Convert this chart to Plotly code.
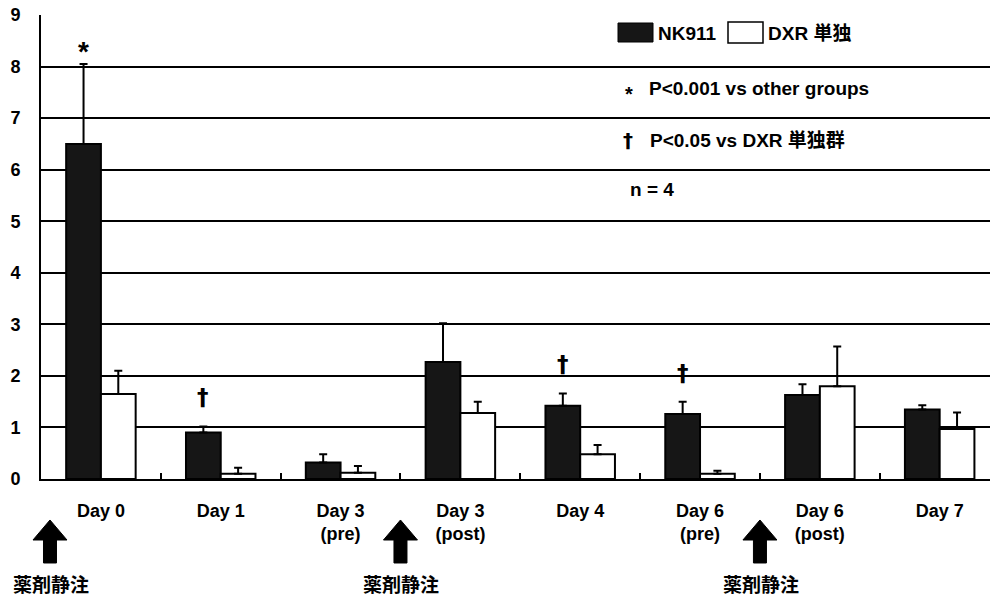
import plotly.graph_objects as go

# ---------------- data ----------------
categories = ["Day 0", "Day 1", "Day 3<br>(pre)", "Day 3<br>(post)", "Day 4",
              "Day 6<br>(pre)", "Day 6<br>(post)", "Day 7"]
nk911_values = [6.5, 0.9, 0.32, 2.27, 1.42, 1.26, 1.63, 1.35]
nk911_errors = [1.55, 0.12, 0.16, 0.75, 0.24, 0.24, 0.21, 0.08]
dxr_values = [1.65, 0.10, 0.12, 1.28, 0.48, 0.10, 1.80, 0.97]
dxr_errors = [0.45, 0.12, 0.13, 0.22, 0.18, 0.06, 0.77, 0.32]
nk911_marks = ["*", "†", "", "", "†", "†", "", ""]
y_tick_values = [0, 1, 2, 3, 4, 5, 6, 7, 8, 9]
series_names = ["NK911", "DXR 単独"]
legend_notes = ["P<0.001 vs other groups", "P<0.05 vs DXR 単独群", "n = 4"]
injection_label = "薬剤静注"
injection_positions = [-0.425, 2.5, 5.5]   # category-axis positions of the arrows

# ---------------- layout constants ----------------
W, H = 990, 596
ML, MR, MT, MB = 41, 0, 15, 117
PW, PH = W - ML - MR, H - MT - MB
X_RANGE = [-0.5, 7.42]
BARGAP = 0.42
FONT = "Liberation Sans, Arial, Noto Sans CJK JP, sans-serif"
MARK_FONT = "DejaVu Sans, Liberation Sans, sans-serif"


def px_x(px):
    return (px - ML) / PW


def px_y(py):
    return (H - MB - py) / PH


def cat_to_paper(c):
    return (c - X_RANGE[0]) / (X_RANGE[1] - X_RANGE[0])


fig = go.Figure()
fig.add_trace(go.Bar(
    x=categories, y=nk911_values, name=series_names[0],
    marker=dict(color="#161616", line=dict(color="black", width=2)),
    error_y=dict(type="data", symmetric=False, array=nk911_errors,
                 arrayminus=[0] * len(nk911_errors), color="black",
                 thickness=2, width=4),
))
fig.add_trace(go.Bar(
    x=categories, y=dxr_values, name=series_names[1],
    marker=dict(color="white", line=dict(color="black", width=2)),
    error_y=dict(type="data", symmetric=False, array=dxr_errors,
                 arrayminus=[0] * len(dxr_errors), color="black",
                 thickness=2, width=4),
))

annotations = []
shapes = []

# significance marks above NK911 bars
half_group = (1 - BARGAP) / 4
for i, mark in enumerate(nk911_marks):
    if not mark:
        continue
    annotations.append(dict(
        x=i - half_group, y=nk911_values[i] + nk911_errors[i], xref="x", yref="y",
        text=mark, showarrow=False, yanchor="bottom",
        yshift=-5 if mark == "*" else 14,
        font=dict(family=MARK_FONT if mark == "†" else FONT,
                  size=28 if mark == "*" else 23, color="black", weight="bold"),
    ))

# legend (manual)
shapes.append(dict(type="rect", xref="paper", yref="paper",
                   x0=px_x(618), x1=px_x(653), y0=px_y(42), y1=px_y(23),
                   fillcolor="#161616", line=dict(color="black", width=1)))
shapes.append(dict(type="rect", xref="paper", yref="paper",
                   x0=px_x(728), x1=px_x(763), y0=px_y(43), y1=px_y(22),
                   fillcolor="white", line=dict(color="black", width=1.5)))
legend_font = dict(family=FONT, size=19, color="black", weight="bold")
annotations.append(dict(x=px_x(656), y=px_y(33), xref="paper", yref="paper",
                        text=series_names[0], showarrow=False, xanchor="left",
                        yanchor="middle", font=legend_font))
annotations.append(dict(x=px_x(766), y=px_y(33), xref="paper", yref="paper",
                        text=series_names[1], showarrow=False, xanchor="left",
                        yanchor="middle", font=legend_font))
annotations.append(dict(x=px_x(629), y=px_y(94), xref="paper", yref="paper",
                        text="*", showarrow=False, xanchor="center",
                        yanchor="middle", font=dict(family=FONT, size=20, color="black", weight="bold")))
annotations.append(dict(x=px_x(647), y=px_y(88), xref="paper", yref="paper",
                        text=legend_notes[0], showarrow=False, xanchor="left",
                        yanchor="middle", font=legend_font))
annotations.append(dict(x=px_x(628), y=px_y(140), xref="paper", yref="paper",
                        text="†", showarrow=False, xanchor="center",
                        yanchor="middle", font=dict(family=MARK_FONT, size=20, color="black", weight="bold")))
annotations.append(dict(x=px_x(648), y=px_y(140), xref="paper", yref="paper",
                        text=legend_notes[1], showarrow=False, xanchor="left",
                        yanchor="middle", font=legend_font))
annotations.append(dict(x=px_x(628), y=px_y(189), xref="paper", yref="paper",
                        text=legend_notes[2], showarrow=False, xanchor="left",
                        yanchor="middle", font=legend_font))

# injection arrows + labels
HEAD_HALF, SHAFT_HALF = 17, 6.5
for c in injection_positions:
    cx = ML + cat_to_paper(c) * PW
    pts = [(cx, 520), (cx + HEAD_HALF, 540), (cx + SHAFT_HALF, 540),
           (cx + SHAFT_HALF, 563), (cx - SHAFT_HALF, 563), (cx - SHAFT_HALF, 540),
           (cx - HEAD_HALF, 540)]
    path = "M " + " L ".join(f"{px_x(a):.5f},{px_y(b):.5f}" for a, b in pts) + " Z"
    shapes.append(dict(type="path", xref="paper", yref="paper", path=path,
                       fillcolor="black", line=dict(color="black", width=1)))
    annotations.append(dict(x=px_x(cx + 1), y=px_y(583), xref="paper", yref="paper",
                            text=injection_label, showarrow=False, xanchor="center",
                            yanchor="middle",
                            font=dict(family="Noto Sans CJK JP", size=19, color="black", weight="bold")))

fig.update_layout(
    width=W, height=H,
    margin=dict(l=ML, r=MR, t=MT, b=MB, pad=0),
    paper_bgcolor="white", plot_bgcolor="white",
    barmode="group", bargap=BARGAP, bargroupgap=0,
    showlegend=False,
    annotations=annotations, shapes=shapes,
    font=dict(family=FONT, color="black"),
)
fig.update_xaxes(
    range=X_RANGE, showline=True, linecolor="black", linewidth=2,
    ticks="inside", tickson="boundaries", ticklen=6, tickwidth=1.5, tickcolor="black",
    tickfont=dict(family=FONT, size=18, color="black", weight="bold"),
    ticklabelstandoff=14, showgrid=False, zeroline=False, automargin=False,
)
fig.update_yaxes(
    range=[0, 9], tickvals=y_tick_values, showline=True, linecolor="black", linewidth=2,
    showgrid=True, gridcolor="black", gridwidth=1.5, zeroline=False, ticks="",
    tickfont=dict(family=FONT, size=18, color="black", weight="bold"),
    ticklabelstandoff=15, automargin=False,
)

fig.write_html("out.html", config={"displayModeBar": False},
               post_script="document.body.style.margin='0';document.body.style.overflow='hidden';")
